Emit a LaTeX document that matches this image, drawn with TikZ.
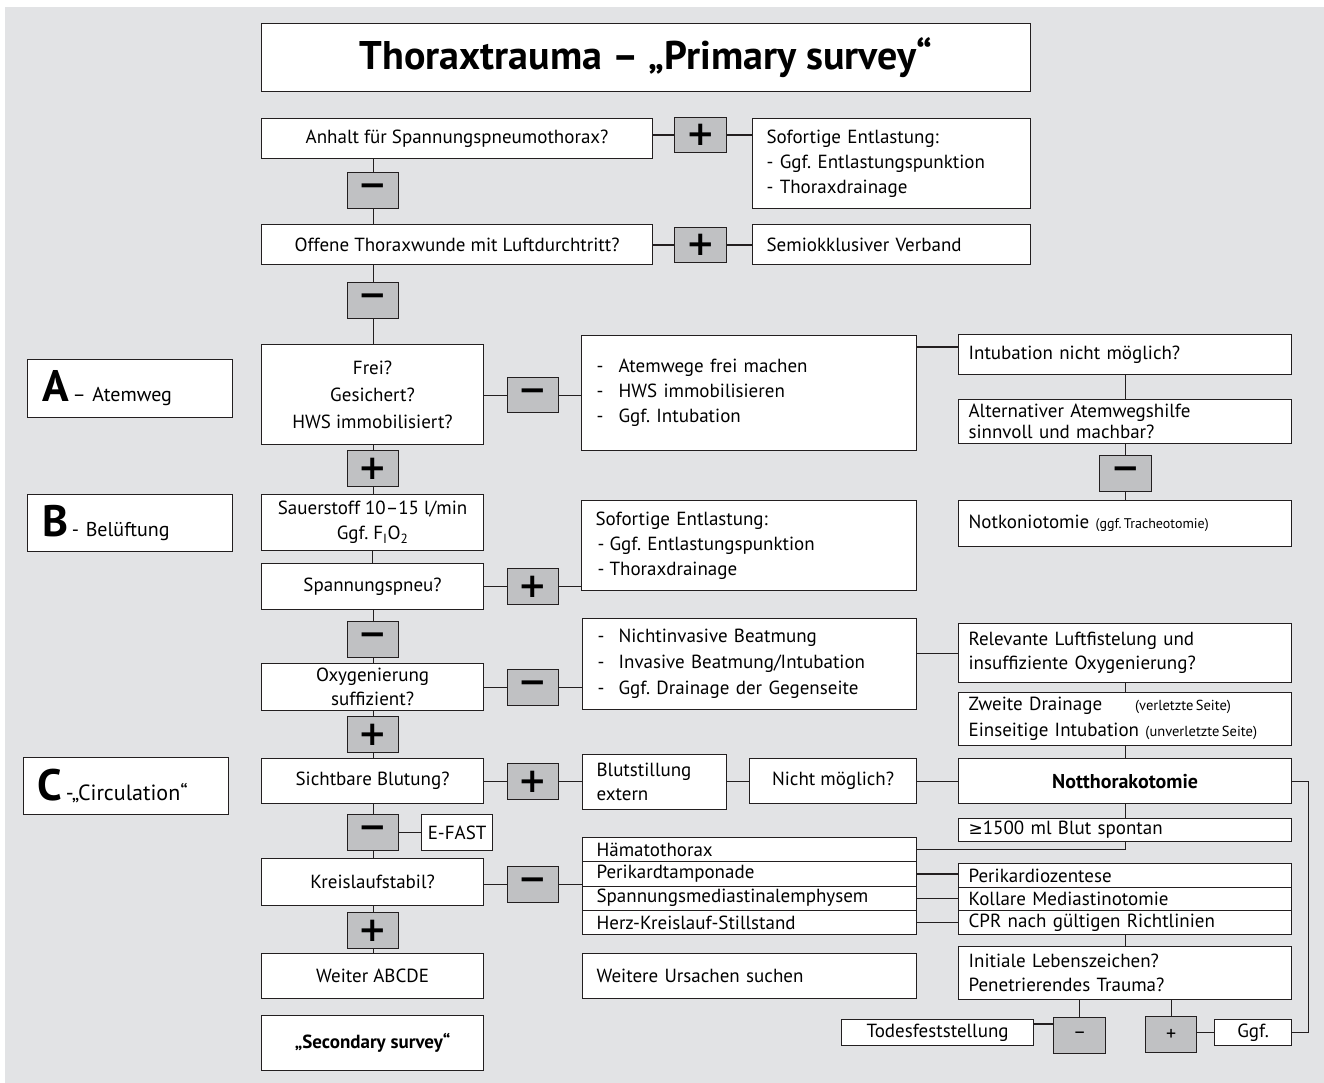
\documentclass[tikz,border=0pt]{standalone}
\usepackage{fontspec}
\setmainfont{PT Sans}
\newfontfamily\symfont{DejaVu Sans}
\frenchspacing
\usetikzlibrary{calc}
\definecolor{bg}{RGB}{226,227,229}
\definecolor{gb}{RGB}{192,193,195}
\definecolor{ln}{RGB}{35,31,32}
\tikzset{
  every node/.style={font=\fontsize{19}{25}\selectfont, text=black},
  box/.style={draw=ln, fill=white, line width=1.2pt, inner sep=0pt, anchor=north west},
  lbox/.style={box, align=left, inner xsep=10pt},
  sgn/.style={draw=ln, fill=gb, line width=1.2pt, inner sep=0pt, anchor=north west, font=\symfont\fontsize{34}{34}\bfseries},
  con/.style={draw=ln, line width=1.2pt},
}
\begin{document}
\begin{tikzpicture}[x=1pt,y=-1pt]
\useasboundingbox (0,0) rectangle (1324,1083);
\fill[white] (0,0) rectangle (1324,1083);
\fill[bg] (5,7) rectangle (1324,1083);

% title
\node[box,minimum width=769pt,minimum height=68pt,font=\fontsize{40}{40}\bfseries] (title) at (261,23) {Thoraxtrauma – „Primary survey“};

% top part
\node[box,minimum width=391pt,minimum height=40pt] (anhalt) at (261,118) {Anhalt für Spannungspneumothorax?};
\node[sgn,minimum width=52pt,minimum height=35pt] (p1) at (674,117) {+};
\node[lbox,minimum width=278pt,minimum height=90pt,inner xsep=14pt,text width=250pt] (sofA) at (752,118) {Sofortige Entlastung:\\- Ggf. Entlastungspunktion\\- Thoraxdrainage};
\node[sgn,minimum width=51pt,minimum height=36pt] (m1) at (347,172) {−};
\node[box,minimum width=391pt,minimum height=40pt] (offene) at (261,224) {Offene Thoraxwunde mit Luftdurchtritt?};
\node[sgn,minimum width=52pt,minimum height=35pt] (p2) at (674,227) {+};
\node[lbox,minimum width=278pt,minimum height=40pt,inner xsep=14pt,text width=250pt] (semi) at (752,224) {Semiokklusiver Verband};
\node[sgn,minimum width=51pt,minimum height=36pt] (m2) at (347,282) {−};

% A
\node[lbox,minimum width=205pt,minimum height=58pt,inner xsep=15pt,text width=175pt,font=\fontsize{20}{25}\selectfont] (A) at (27,359) {{\fontsize{44}{44}\bfseries A}\,– Atemweg};
\node[box,minimum width=222pt,minimum height=100pt,align=center,font=\fontsize{19}{27}\selectfont] (frei) at (261,344) {Frei?\\Gesichert?\\HWS immobilisiert?};
\node[sgn,minimum width=51pt,minimum height=35pt] (m3) at (507,377) {−};
\node[lbox,minimum width=335pt,minimum height=115pt,inner xsep=15pt,text width=305pt] (atem) at (581,335) {\makebox[22pt][l]{-}Atemwege frei machen\\\makebox[22pt][l]{-}HWS immobilisieren\\\makebox[22pt][l]{-}Ggf. Intubation};
\node[lbox,minimum width=333pt,minimum height=40pt,text width=313pt] (intub) at (958,334) {Intubation nicht möglich?};
\node[lbox,minimum width=333pt,minimum height=44pt,text width=313pt,font=\fontsize{19}{21}\selectfont] (alt) at (958,399) {Alternativer Atemwegshilfe\\sinnvoll und machbar?};
\node[sgn,minimum width=52pt,minimum height=36pt] (m4) at (1099,455) {−};
\node[lbox,minimum width=333pt,minimum height=46pt,text width=313pt] (notk) at (958,500) {Notkoniotomie {\fontsize{14}{14}\selectfont (ggf.\,Tracheotomie)}};
\node[sgn,minimum width=51pt,minimum height=36pt] (p3) at (347,450) {+};

% B
\node[lbox,minimum width=205pt,minimum height=57pt,inner xsep=15pt,text width=175pt,font=\fontsize{20}{25}\selectfont] (B) at (27,494) {{\fontsize{44}{44}\bfseries B}\,- Belüftung};
\node[box,minimum width=222pt,minimum height=56pt,align=center] (sauer) at (261,494) {Sauerstoff 10–15 l/min\\Ggf. F\textsubscript{I}O\textsubscript{2}};
\node[lbox,minimum width=335pt,minimum height=90pt,inner xsep=14pt,text width=307pt] (sof2) at (581,500) {Sofortige Entlastung:\\\hspace*{2pt}\makebox[12pt][l]{-}Ggf. Entlastungspunktion\\\hspace*{2pt}\makebox[12pt][l]{-}Thoraxdrainage};
\node[box,minimum width=222pt,minimum height=46pt] (spann) at (261,563) {Spannungspneu?};
\node[sgn,minimum width=51pt,minimum height=36pt] (p4) at (507,568) {+};
\node[sgn,minimum width=51pt,minimum height=36pt] (m5) at (347,621) {−};
\node[box,minimum width=222pt,minimum height=47pt,align=center,font=\fontsize{19}{24}\selectfont] (oxy) at (261,663) {Oxygenierung\\suffizient?};
\node[sgn,minimum width=51pt,minimum height=36pt] (m6) at (507,669) {−};
\node[lbox,minimum width=334pt,minimum height=91pt,inner xsep=15pt,text width=304pt,font=\fontsize{19}{26}\selectfont] (nichtinv) at (582,618) {\makebox[21pt][l]{-}Nichtinvasive Beatmung\\\makebox[21pt][l]{-}Invasive Beatmung/Intubation\\\makebox[21pt][l]{-}Ggf. Drainage der Gegenseite};
\node[lbox,minimum width=333pt,minimum height=59pt,text width=313pt,font=\fontsize{19}{24}\selectfont] (relev) at (958,623) {Relevante Luftfistelung und\\insuffiziente Oxygenierung?};
\node[lbox,minimum width=333pt,minimum height=53pt,text width=313pt,font=\fontsize{19}{26}\selectfont] (zweite) at (958,692) {Zweite Drainage\hspace{33pt}{\fontsize{14.5}{14.5}\selectfont(verletzte\,Seite)}\\Einseitige Intubation {\fontsize{14.5}{14.5}\selectfont(unverletzte\,Seite)}};
\node[sgn,minimum width=51pt,minimum height=36pt] (p5) at (347,716) {+};

% C
\node[lbox,minimum width=205pt,minimum height=57pt,inner xsep=14pt,text width=177pt,font=\fontsize{22}{25}\selectfont] (C) at (23,757) {{\fontsize{44}{44}\bfseries C}\,-„Circulation“};
\node[box,minimum width=222pt,minimum height=45pt] (sicht) at (261,758) {Sichtbare Blutung?};
\node[sgn,minimum width=51pt,minimum height=36pt] (p6) at (507,763) {+};
\node[lbox,minimum width=144pt,minimum height=55pt,inner xsep=14pt,text width=116pt,font=\fontsize{19}{24}\selectfont] (blut) at (582,754) {Blutstillung\\extern};
\node[box,minimum width=167pt,minimum height=45pt] (nicht) at (749,758) {Nicht möglich?};
\node[box,minimum width=333pt,minimum height=45pt,font=\fontsize{20}{25}\bfseries] (nott) at (958,758) {Notthorakotomie};
\node[sgn,minimum width=51pt,minimum height=36pt] (m7) at (347,814) {−};
\node[box,minimum width=71pt,minimum height=36pt] (efast) at (421,814) {E-FAST};
\node[lbox,minimum width=333pt,minimum height=23pt,text width=313pt] (b1500) at (958,818) {{\symfont\fontsize{17}{17}\selectfont ≥}1500 ml Blut spontan};
\node[box,minimum width=222pt,minimum height=47pt] (kreis) at (261,858) {Kreislaufstabil?};
\node[sgn,minimum width=51pt,minimum height=36pt] (m8) at (507,866) {−};
\node[lbox,minimum width=334pt,minimum height=24.25pt,inner xsep=14pt,text width=306pt] (r1) at (582,837) {Hämatothorax};
\node[lbox,minimum width=334pt,minimum height=24.25pt,inner xsep=14pt,text width=306pt] (r2) at (582,861.25) {Perikardtamponade};
\node[lbox,minimum width=334pt,minimum height=24.25pt,inner xsep=14pt,text width=306pt] (r3) at (582,885.5) {Spannungsmediastinalemphysem};
\node[lbox,minimum width=334pt,minimum height=24.25pt,inner xsep=14pt,text width=306pt] (r4) at (582,909.75) {Herz-Kreislauf-Stillstand};
\node[lbox,minimum width=333pt,minimum height=24pt,text width=313pt] (s1) at (958,863) {Perikardiozentese};
\node[lbox,minimum width=333pt,minimum height=23pt,text width=313pt] (s2) at (958,887) {Kollare Mediastinotomie};
\node[lbox,minimum width=333pt,minimum height=24pt,text width=313pt] (s3) at (958,910) {CPR nach gültigen Richtlinien};
\node[sgn,minimum width=51pt,minimum height=36pt] (p7) at (347,912) {+};
\node[box,minimum width=222pt,minimum height=45pt] (weiter) at (261,953) {Weiter ABCDE};
\node[lbox,minimum width=334pt,minimum height=45pt,inner xsep=14pt,text width=306pt] (weitere) at (582,953) {Weitere Ursachen suchen};
\node[lbox,minimum width=333pt,minimum height=53pt,text width=313pt,font=\fontsize{19}{24}\selectfont] (init) at (958,946) {Initiale Lebenszeichen?\\Penetrierendes Trauma?};
\node[box,minimum width=222pt,minimum height=55pt,font=\fontsize{19}{25}\bfseries] (second) at (261,1015) {„Secondary survey“};
\node[box,minimum width=192pt,minimum height=26pt] (tod) at (841,1019) {Todesfeststellung};
\node[sgn,minimum width=52pt,minimum height=36pt,font=\fontsize{20}{20}\selectfont] (m9) at (1053,1017) {–};
\node[sgn,minimum width=51pt,minimum height=36pt,font=\fontsize{20}{20}\selectfont] (p8) at (1145,1016) {+};
\node[box,minimum width=77pt,minimum height=26pt] (ggf) at (1214,1019) {Ggf.};

% connectors
\draw[con] (m1.north) -- (m1.north |- anhalt.south);
\draw[con] (m1.south) -- (m1.south |- offene.north);
\draw[con] (m2.north) -- (m2.north |- offene.south);
\draw[con] (m2.south) -- (m2.south |- frei.north);
\draw[con] (p1.west) -- (p1.west -| anhalt.east);
\draw[con] (p1.east) -- (p1.east -| sofA.west);
\draw[con] (p2.west) -- (p2.west -| offene.east);
\draw[con] (p2.east) -- (p2.east -| semi.west);
\draw[con] (m3.west) -- (m3.west -| frei.east);
\draw[con] (m3.east) -- (m3.east -| atem.west);
\coordinate (ai) at ($(intub.north west)+(0,13)$);
\draw[con] (ai) -- (ai -| atem.east);
\draw[con] (intub.south) -- (alt.north);
\draw[con] (m4.north) -- (m4.north |- alt.south);
\draw[con] (m4.south) -- (m4.south |- notk.north);
\draw[con] (p3.north) -- (p3.north |- frei.south);
\draw[con] (p3.south) -- (p3.south |- sauer.north);
\draw[con] (sauer.south) -- (spann.north);
\draw[con] (p4.west) -- (p4.west -| spann.east);
\draw[con] (p4.east) -- (p4.east -| sof2.west);
\draw[con] (m5.north) -- (m5.north |- spann.south);
\draw[con] (m5.south) -- (m5.south |- oxy.north);
\draw[con] (m6.west) -- (m6.west -| oxy.east);
\draw[con] (m6.east) -- (m6.east -| nichtinv.west);
\draw[con] (relev.west) -- (relev.west -| nichtinv.east);
\draw[con] (relev.south) -- (zweite.north);
\draw[con] (zweite.south) -- (nott.north);
\draw[con] (p5.north) -- (p5.north |- oxy.south);
\draw[con] (p5.south) -- (p5.south |- sicht.north);
\draw[con] (p6.west) -- (p6.west -| sicht.east);
\draw[con] (p6.east) -- (p6.east -| blut.west);
\draw[con] (nicht.west) -- (nicht.west -| blut.east);
\draw[con] (nicht.east) -- (nott.west);
\draw[con] (nott.south) -- (b1500.north);
\draw[con] (b1500.south) |- (r1.east);
\draw[con] (m7.north) -- (m7.north |- sicht.south);
\draw[con] (m7.south) -- (m7.south |- kreis.north);
\draw[con] (m7.east) -- (efast.west);
\draw[con] (m8.west) -- (m8.west -| kreis.east);
\draw[con] (m8.east) -- (m8.east -| r1.west);
\draw[con] (r2.east) -- (r2.east -| s1.west);
\draw[con] (r3.east) -- (r3.east -| s2.west);
\draw[con] (r4.east) -- (r4.east -| s3.west);
\draw[con] (p7.north) -- (p7.north |- kreis.south);
\draw[con] (p7.south) -- (p7.south |- weiter.north);
\draw[con] (s3.south) -- (init.north);
\draw[con] (m9.north) -- (m9.north |- init.south);
\draw[con] (p8.north) -- (p8.north |- init.south);
\coordinate (tm) at ($(tod.north east)+(0,5)$);
\draw[con] (tm) -- (tm -| m9.west);
\draw[con] (ggf.west) -- (ggf.west -| p8.east);
\draw[con] (nott.east) -- ++(16,0) |- (ggf.east);
\end{tikzpicture}
\end{document}
